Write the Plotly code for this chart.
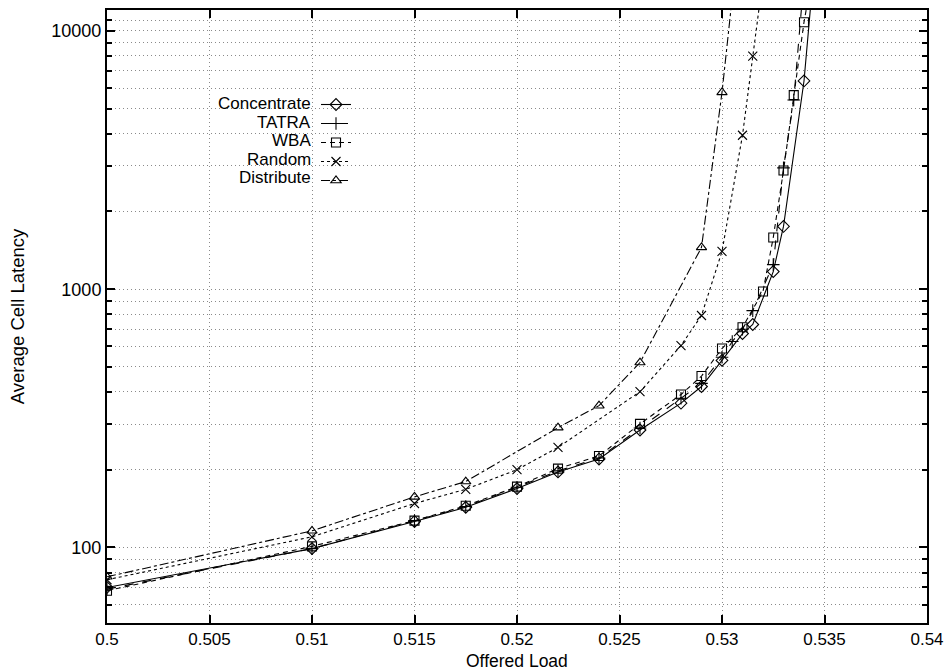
import plotly.graph_objects as go
import math

# Offered load (x) and average cell latency (y) per scheduling policy
conc_x = [0.500, 0.510, 0.515, 0.5175, 0.520, 0.522, 0.524, 0.526, 0.528, 0.529, 0.530,
          0.531, 0.5315, 0.5325, 0.533, 0.534, 0.5345]
conc_y = [70, 99, 126, 143, 169, 196, 220, 285, 362, 420, 530, 673, 730, 1170, 1750, 6400, 18000]

tatra_x = [0.500, 0.510, 0.515, 0.5175, 0.520, 0.522, 0.524, 0.526, 0.528, 0.529, 0.530,
           0.5305, 0.531, 0.5315, 0.5325, 0.533, 0.5335, 0.534]
tatra_y = [69, 99, 127, 144, 171, 198, 222, 290, 378, 432, 545, 627, 700, 826, 1245, 2950, 5400, 16000]

wba_x = [0.500, 0.510, 0.515, 0.5175, 0.520, 0.522, 0.524, 0.526, 0.528, 0.529, 0.530,
         0.531, 0.532, 0.5325, 0.533, 0.5335, 0.534, 0.5345]
wba_y = [68, 101, 127, 145, 172, 202, 226, 301, 391, 461, 589, 712, 980, 1585, 2880, 5640, 10810, 18000]

rand_x = [0.500, 0.510, 0.515, 0.5175, 0.520, 0.522, 0.526, 0.528, 0.529, 0.530, 0.531, 0.5315, 0.532]
rand_y = [75, 110, 148, 168, 200, 244, 401, 605, 791, 1400, 3945, 7980, 16000]

dist_x = [0.500, 0.510, 0.515, 0.5175, 0.522, 0.524, 0.526, 0.529, 0.530, 0.5305]
dist_y = [77, 116, 157, 180, 291, 354, 520, 1452, 5780, 13500]

series_names = ["Concentrate", "TATRA", "WBA", "Random", "Distribute"]

x_tickvals = [0.5, 0.505, 0.51, 0.515, 0.52, 0.525, 0.53, 0.535, 0.54]
x_ticktext = ["0.5", "0.505", "0.51", "0.515", "0.52", "0.525", "0.53", "0.535", "0.54"]
y_tickvals = [100, 1000, 10000]
y_ticktext = ["100", "1000", "10000"]
y_minor = [m * 10 ** e for e in (1, 2, 3) for m in range(2, 10)] + [11000]

FONT = "Liberation Sans, Arial, Helvetica, sans-serif"
GRID = "#8a8a8a"
GRID_DASH = "1px,3px"

styles = [
    (conc_x, conc_y, "solid", "diamond-open"),
    (tatra_x, tatra_y, "dash", "cross-thin"),
    (wba_x, wba_y, "5px,4px", "square-open"),
    (rand_x, rand_y, "dot", "x-thin"),
    (dist_x, dist_y, "dashdot", "triangle-up-open"),
]

fig = go.Figure()
for name, (xs, ys, dash, sym) in zip(series_names, styles):
    fig.add_trace(go.Scatter(
        x=xs, y=ys, name=name, mode="lines+markers",
        line=dict(color="black", width=1.1, dash=dash),
        marker=dict(symbol=sym, size=9, color="black",
                    line=dict(color="black", width=1.1)),
    ))

# key labels sit to the left of the key samples
PLOT_L, PLOT_W, PLOT_B, PLOT_H = 107, 820, 623, 613
for i, name in enumerate(series_names):
    fig.add_annotation(
        xref="paper", yref="paper", x=(312 - PLOT_L) / PLOT_W,
        y=(PLOT_B - (103 + 18.6 * i)) / PLOT_H,
        xanchor="right", yanchor="middle", text=name, showarrow=False,
        height=18, valign="middle", borderpad=0,
        font=dict(family=FONT, size=17, color="black"),
    )

# x-axis title, set tight under the tick labels
fig.add_annotation(
    xref="paper", yref="paper", x=0.5, y=(PLOT_B - 661) / PLOT_H,
    xanchor="center", yanchor="middle", text="Offered Load", showarrow=False,
    height=16, valign="middle", borderpad=0,
    font=dict(family=FONT, size=17.5, color="black"),
)

fig.update_layout(
    width=947, height=670,
    margin=dict(l=PLOT_L, r=20, t=10, b=670 - PLOT_B),
    plot_bgcolor="white", paper_bgcolor="white",
    font=dict(family=FONT, size=18, color="black"),
    showlegend=True,
    legend=dict(
        x=(316 - PLOT_L) / PLOT_W, y=(PLOT_B - 90) / PLOT_H, xanchor="left", yanchor="top",
        bgcolor="rgba(0,0,0,0)", borderwidth=0,
        font=dict(size=10, color="rgba(0,0,0,0)"),
        itemwidth=30, tracegroupgap=0,
    ),
    xaxis=dict(
        range=[0.5, 0.54], tickvals=x_tickvals, ticktext=x_ticktext,
        showline=True, linecolor="black", linewidth=2, mirror="ticks",
        ticks="inside", ticklen=8, tickcolor="black", tickwidth=1.5,
        showgrid=True, gridcolor=GRID, griddash=GRID_DASH, gridwidth=1,
        zeroline=False, ticklabelstandoff=0, automargin=False,
        tickfont=dict(size=17),
    ),
    yaxis=dict(
        type="log", range=[math.log10(51), math.log10(12050)],
        tickvals=y_tickvals, ticktext=y_ticktext,
        showline=True, linecolor="black", linewidth=2, mirror="ticks",
        ticks="inside", ticklen=8, tickcolor="black", tickwidth=1.5,
        showgrid=True, gridcolor=GRID, griddash=GRID_DASH, gridwidth=1,
        minor=dict(tickvals=y_minor, ticks="inside", ticklen=5, tickcolor="black",
                   showgrid=True, gridcolor=GRID, griddash=GRID_DASH, gridwidth=1),
        zeroline=False, automargin=False,
        title=dict(text="Average Cell Latency", standoff=22, font=dict(size=18.5)),
        tickfont=dict(size=18),
    ),
)

fig.write_html("out.html")
